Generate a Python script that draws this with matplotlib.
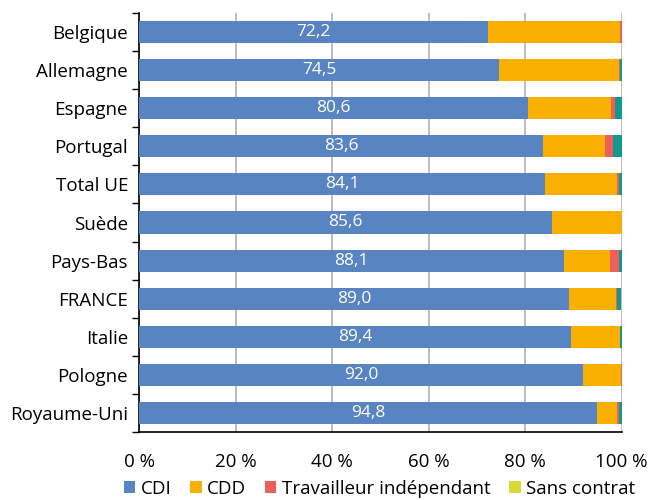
import numpy as np
import matplotlib.pyplot as plt
from matplotlib.ticker import FixedLocator

# Répartition des salariés selon le type de contrat (en %)
pays = ['Belgique', 'Allemagne', 'Espagne', 'Portugal', 'Total UE', 'Suède',
        'Pays-Bas', 'FRANCE', 'Italie', 'Pologne', 'Royaume-Uni']
cdi = [72.2, 74.5, 80.6, 83.6, 84.1, 85.6, 88.1, 89.0, 89.4, 92.0, 94.8]
cdd = [27.4, 25.0, 17.1, 13.0, 14.9, 14.4, 9.4, 9.8, 10.2, 7.8, 4.2]
independant = [0.4, 0.1, 0.8, 1.5, 0.4, 0.0, 1.9, 0.2, 0.0, 0.2, 0.5]
sans_contrat = [0.0, 0.0, 0.0, 0.0, 0.0, 0.0, 0.0, 0.0, 0.0, 0.0, 0.0]
autre = [0.0, 0.4, 1.5, 1.9, 0.6, 0.0, 0.6, 0.8, 0.6, 0.0, 0.5]
xticks = [0, 20, 40, 60, 80, 100]

series = [
    ('CDI', cdi, '#5884c2'),
    ('CDD', cdd, '#f9b000'),
    ('Travailleur indépendant', independant, '#ee5f5b'),
    ('Sans contrat', sans_contrat, '#d6db3a'),
    ('_autre', autre, '#0f998f'),
]

plt.rcParams['font.family'] = ['Open Sans', 'DejaVu Sans']

fig = plt.figure(figsize=(6.49, 5.0), dpi=100)
ax = fig.add_axes([0.2145, 0.136, 0.7435, 0.838])

y = np.arange(len(pays))
left = np.zeros(len(pays))
for name, values, color in series:
    values = np.array(values)
    ax.barh(y, values, left=left, height=0.58, color=color, label=name, zorder=3)
    left += values

# valeurs CDI au centre des barres
for yi, v in zip(y, cdi):
    ax.text(v / 2, yi, f'{v:.1f}'.replace('.', ','), ha='center', va='center',
            color='white', fontsize=12.5, zorder=4)

ax.set_xlim(0, 100)
ax.set_ylim(len(pays) - 0.5, -0.5)
ax.set_yticks(y)
ax.set_yticklabels(pays, fontsize=13.5)
ax.tick_params(axis='y', length=0, pad=8)
ax.yaxis.set_minor_locator(FixedLocator(np.arange(-0.5, len(pays), 1)))
ax.tick_params(axis='y', which='minor', length=5, width=1, color='black')

ax.set_xticks(xticks)
ax.set_xticklabels([f'{t} %' for t in xticks], fontsize=13.5)
ax.tick_params(axis='x', length=0, pad=15)
ax.grid(axis='x', color='#b0b0b0', linewidth=1.2, zorder=0)

for side in ['top', 'right']:
    ax.spines[side].set_visible(False)
ax.spines['left'].set_linewidth(1.2)
ax.spines['bottom'].set_linewidth(1.2)

handles, labels = ax.get_legend_handles_labels()
keep = [i for i, l in enumerate(labels) if not l.startswith('_')]
fig.legend([handles[i] for i in keep], [labels[i] for i in keep],
           loc='lower center', bbox_to_anchor=(0.585, -0.022), ncol=4,
           frameon=False, fontsize=13.5, handlelength=0.6, handleheight=0.6,
           handletextpad=0.3, columnspacing=1.0, borderpad=0.2)

fig.savefig('out.png', dpi=100)
